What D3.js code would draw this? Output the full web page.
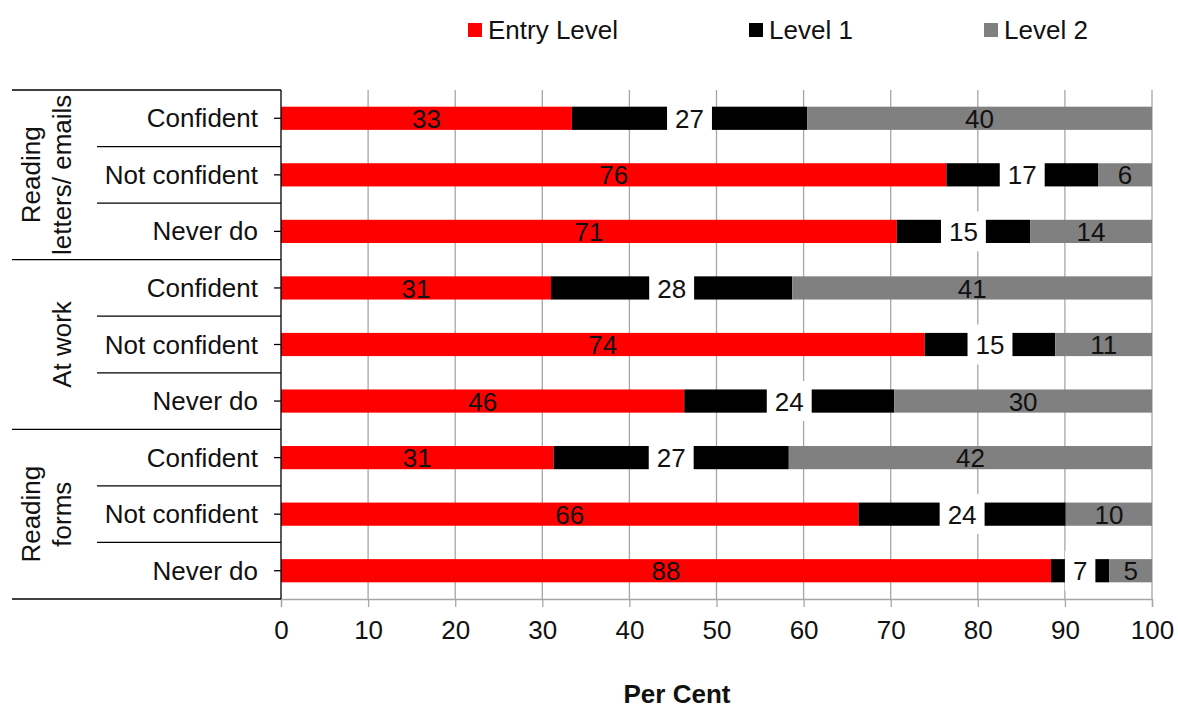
<!DOCTYPE html>
<html>
<head>
<meta charset="utf-8">
<script src="https://cdn.jsdelivr.net/npm/d3@7"></script>
<style>
  html, body { margin: 0; padding: 0; background: #fff; }
  svg { display: block; font-family: "Liberation Sans", Arial, sans-serif; }
</style>
</head>
<body>
<svg id="chart" width="1178" height="709"></svg>
<script>
// ---- data ----
const rowLabels = ["Confident", "Not confident", "Never do",
                   "Confident", "Not confident", "Never do",
                   "Confident", "Not confident", "Never do"];
const groupLabels = [["Reading", "letters/ emails"], ["At work"], ["Reading", "forms"]];
const groupSizes = [3, 3, 3];
const seriesNames = ["Entry Level", "Level 1", "Level 2"];
const entryLevel = [33.4, 76.4, 70.7, 31.0, 73.9, 46.3, 31.3, 66.3, 88.4];
const level1     = [27.0, 17.4, 15.3, 27.7, 15.0, 24.1, 27.0, 23.8, 6.7];
const level2     = [39.6, 6.2, 14.0, 41.3, 11.1, 29.6, 41.7, 9.9, 4.9];
const xTicks = [0, 10, 20, 30, 40, 50, 60, 70, 80, 90, 100];
const xTitle = "Per Cent";

const colors = ["#ff0000", "#000000", "#808080"];
const series = [entryLevel, level1, level2];

(function () {
const svg = d3.select("#chart");
const pLeft = 281, pRight = 1152, pTop = 90, pBottom = 599;
const FS = 26;

const x = d3.scaleLinear().domain([0, 100]).range([pLeft, pRight]);
const ids = rowLabels.map((d, i) => i);
const y = d3.scaleBand().domain(ids).range([pTop, pBottom]).paddingInner(0.59).paddingOuter(0.295);
const step = y.step();

// gridlines
svg.append("g").selectAll("line").data(xTicks.filter(t => t > 0)).join("line")
  .attr("x1", d => x(d)).attr("x2", d => x(d))
  .attr("y1", pTop).attr("y2", pBottom)
  .attr("stroke", "#a6a6a6").attr("stroke-width", 1.3);

// x axis
const xAxis = d3.axisBottom(x).tickValues(xTicks).tickSize(8).tickPadding(14).tickFormat(d3.format("d"));
const gx = svg.append("g").attr("transform", `translate(0,${pBottom})`).call(xAxis);
gx.select(".domain").attr("stroke", "#a6a6a6").attr("stroke-width", 1.3);
gx.selectAll(".tick line").attr("stroke", "#a6a6a6").attr("stroke-width", 1.3);
gx.selectAll(".tick text").attr("font-size", FS).attr("fill", "#111")
  .attr("font-family", "Liberation Sans, Arial, sans-serif");

// stacked bars
const stacked = ids.map(i => {
  let acc = 0;
  return series.map((s, k) => { const o = { i, k, x0: acc, x1: acc + s[i], v: s[i] }; acc += s[i]; return o; });
});
const segs = stacked.flat();
svg.append("g").selectAll("rect").data(segs).join("rect")
  .attr("x", d => x(d.x0)).attr("width", d => x(d.x1) - x(d.x0))
  .attr("y", d => y(d.i)).attr("height", y.bandwidth())
  .attr("fill", d => colors[d.k]);

// labels
const lab = svg.append("g").attr("font-size", FS).attr("text-anchor", "middle");
segs.forEach(d => {
  const cx = (x(d.x0) + x(d.x1)) / 2;
  const cy = y(d.i) + y.bandwidth() / 2;
  const txt = String(Math.round(d.v));
  if (d.k === 1) {
    const t = lab.append("text").attr("x", cx).attr("y", cy).attr("dy", "0.37em").text(txt).attr("fill", "#111");
    const w = t.node().getComputedTextLength() + 16;
    lab.insert("rect", () => t.node()).attr("x", cx - w / 2).attr("y", cy - 20).attr("width", w).attr("height", 40).attr("fill", "#fff");
  } else {
    lab.append("text").attr("x", cx).attr("y", cy).attr("dy", "0.37em").text(txt).attr("fill", "#111");
  }
});

// y axis line & ticks
svg.append("line").attr("x1", pLeft).attr("x2", pLeft).attr("y1", pTop).attr("y2", pBottom)
  .attr("stroke", "#000").attr("stroke-width", 1.3);
svg.append("g").selectAll("line").data(ids).join("line")
  .attr("x1", pLeft - 7).attr("x2", pLeft)
  .attr("y1", d => y(d) + y.bandwidth() / 2).attr("y2", d => y(d) + y.bandwidth() / 2)
  .attr("stroke", "#000").attr("stroke-width", 1.3);

// row labels
svg.append("g").selectAll("text").data(ids).join("text")
  .attr("x", 258).attr("y", d => y(d) + y.bandwidth() / 2).attr("dy", "0.35em")
  .attr("text-anchor", "end").attr("font-size", FS).attr("fill", "#111")
  .text(d => rowLabels[d]);

// separators
const sep = svg.append("g").attr("stroke", "#000").attr("stroke-width", 1.3);
let acc = 0;
const boundaries = [0];
groupSizes.forEach(n => { acc += n; boundaries.push(acc); });
for (let r = 0; r <= ids.length; r++) {
  const yy = pTop + r * step;
  const outer = boundaries.includes(r);
  sep.append("line").attr("x1", outer ? 12 : 97).attr("x2", pLeft).attr("y1", yy).attr("y2", yy);
}

// group labels
groupLabels.forEach((lines, g) => {
  const y0 = pTop + boundaries[g] * step, y1 = pTop + boundaries[g + 1] * step;
  const cy = (y0 + y1) / 2;
  const n = lines.length;
  lines.forEach((ln, j) => {
    const bx = 71 - (n - 1 - j) * 31;
    svg.append("text").attr("transform", `translate(${bx},${cy}) rotate(-90)`)
      .attr("text-anchor", "middle").attr("font-size", FS).attr("fill", "#111").text(ln);
  });
});

// legend
const legX = [468, 749, 984];
const leg = svg.append("g");
seriesNames.forEach((nm, k) => {
  leg.append("rect").attr("x", legX[k]).attr("y", 23).attr("width", 14).attr("height", 14).attr("fill", colors[k]);
  leg.append("text").attr("x", legX[k] + 20).attr("y", 30).attr("dy", "0.35em")
    .attr("font-size", FS).attr("fill", "#111").text(nm);
});

// x title
svg.append("text").attr("x", 677).attr("y", 703).attr("text-anchor", "middle")
  .attr("font-size", FS).attr("font-weight", "bold").attr("fill", "#111").text(xTitle);
})();
</script>
</body>
</html>
